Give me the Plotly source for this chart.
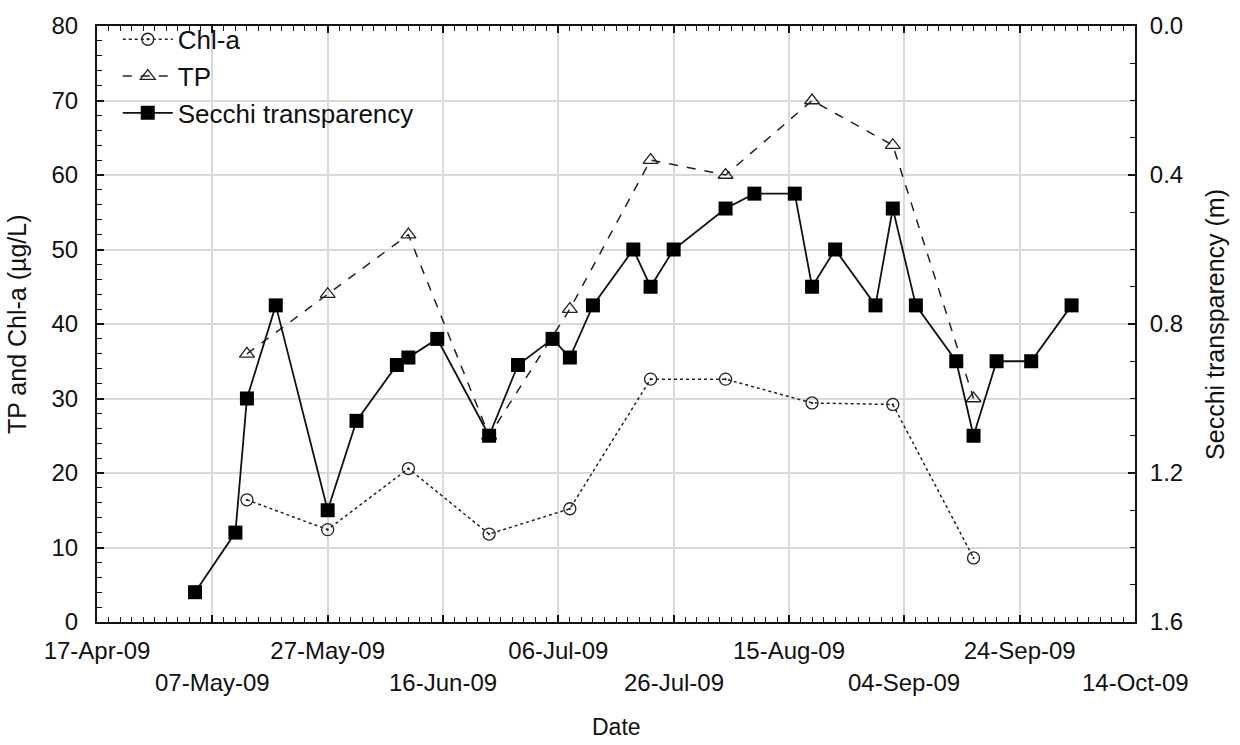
import plotly.graph_objects as go

# Sampling dates and measured values
sample_dates = ["2009-05-13", "2009-05-27", "2009-06-10", "2009-06-24", "2009-07-08",
                "2009-07-22", "2009-08-04", "2009-08-19", "2009-09-02", "2009-09-16"]
chla = [16.4, 12.4, 20.6, 11.8, 15.2, 32.6, 32.6, 29.4, 29.2, 8.6]
tp = [36, 44, 52, 25, 42, 62, 60, 70, 64, 30]

secchi_dates = ["2009-05-04", "2009-05-11", "2009-05-13", "2009-05-18", "2009-05-27",
                "2009-06-01", "2009-06-08", "2009-06-10", "2009-06-15", "2009-06-24",
                "2009-06-29", "2009-07-05", "2009-07-08", "2009-07-12", "2009-07-19",
                "2009-07-22", "2009-07-26", "2009-08-04", "2009-08-09", "2009-08-16",
                "2009-08-19", "2009-08-23", "2009-08-30", "2009-09-02", "2009-09-06",
                "2009-09-13", "2009-09-16", "2009-09-20", "2009-09-26", "2009-10-03"]
secchi = [1.52, 1.36, 1.00, 0.75, 1.30,
          1.06, 0.91, 0.89, 0.84, 1.10,
          0.91, 0.84, 0.89, 0.75, 0.60,
          0.70, 0.60, 0.49, 0.45, 0.45,
          0.70, 0.60, 0.75, 0.49, 0.75,
          0.90, 1.10, 0.90, 0.90, 0.75]

tick_dates = ["2009-04-17", "2009-05-07", "2009-05-27", "2009-06-16", "2009-07-06",
              "2009-07-26", "2009-08-15", "2009-09-04", "2009-09-24", "2009-10-14"]
tick_labels = ["17-Apr-09", "07-May-09", "27-May-09", "16-Jun-09", "06-Jul-09",
               "26-Jul-09", "15-Aug-09", "04-Sep-09", "24-Sep-09", "14-Oct-09"]

FONT = "Liberation Sans, Arial, sans-serif"
TXT = "#111111"
GRID = "#d9d9d9"
TICK_SIZE = 24

# even-indexed labels sit on the first row, the others on a second row below
row1_text = [t if i % 2 == 0 else "" for i, t in enumerate(tick_labels)]

fig = go.Figure()
fig.add_trace(go.Scatter(
    x=sample_dates, y=chla, name="Chl-a", mode="lines+markers",
    line=dict(color="#222", width=1.5, dash="dot"),
    marker=dict(symbol="circle-open-dot", size=12, color="#222", line=dict(width=1.3)),
))
fig.add_trace(go.Scatter(
    x=sample_dates, y=tp, name="TP", mode="lines+markers",
    line=dict(color="#222", width=1.5, dash="dash"),
    marker=dict(symbol="triangle-up-open", size=13, color="#222", line=dict(width=1.3)),
))
fig.add_trace(go.Scatter(
    x=secchi_dates, y=secchi, name="Secchi transparency", mode="lines+markers",
    yaxis="y2",
    line=dict(color="#111", width=1.8),
    marker=dict(symbol="square", size=14, color="#000"),
))

axis_common = dict(
    showline=True, linecolor="#111", linewidth=2,
    ticks="inside", ticklen=7, tickwidth=1.5, tickcolor="#111",
    tickfont=dict(family=FONT, size=TICK_SIZE, color=TXT),
    zeroline=False,
)

annotations = [
    dict(text="TP and Chl-a (µg/L)", xref="paper", yref="paper",
         x=-0.077, y=0.5, xanchor="center", yanchor="middle",
         textangle=-90, showarrow=False,
         font=dict(family=FONT, size=25, color=TXT)),
    dict(text="Secchi transparency (m)", xref="paper", yref="paper",
         x=1.077, y=0.5, xanchor="center", yanchor="middle",
         textangle=-90, showarrow=False,
         font=dict(family=FONT, size=25, color=TXT)),
    dict(text="Date", xref="paper", yref="paper",
         x=0.5, y=-0.177, xanchor="center", yanchor="middle", showarrow=False,
         font=dict(family=FONT, size=23, color=TXT)),
]
for i, (d, t) in enumerate(zip(tick_dates, tick_labels)):
    if i % 2 == 1:
        annotations.append(dict(
            text=t, x=d, xref="x", y=-0.102, yref="paper",
            xanchor="center", yanchor="middle", showarrow=False,
            font=dict(family=FONT, size=TICK_SIZE, color=TXT)))

fig.update_layout(
    width=1240, height=745,
    margin=dict(l=97, r=105, t=22, b=123),
    paper_bgcolor="white", plot_bgcolor="white",
    showlegend=True,
    legend=dict(
        x=0.02, y=1.017, xanchor="left", yanchor="top",
        bgcolor="rgba(0,0,0,0)", borderwidth=0,
        font=dict(family=FONT, size=26, color=TXT),
        itemwidth=50, tracegroupgap=0,
    ),
    xaxis=dict(
        type="date",
        range=["2009-04-17", "2009-10-14"],
        tickmode="array", tickvals=tick_dates, ticktext=row1_text,
        showgrid=True, gridcolor=GRID, gridwidth=2,
        mirror="ticks",
        ticklabelstandoff=6,
        minor=dict(dtick=2 * 86400000, tick0="2009-04-17", ticks="inside",
                   ticklen=5, tickwidth=1.3, tickcolor="#111", showgrid=False),
        **axis_common,
    ),
    yaxis=dict(
        range=[0, 80], dtick=10, tick0=0,
        showgrid=True, gridcolor=GRID, gridwidth=2,
        ticklabelstandoff=12,
        minor=dict(dtick=2, ticks="inside", ticklen=5, tickwidth=1.3,
                   tickcolor="#111", showgrid=False),
        **axis_common,
    ),
    yaxis2=dict(
        overlaying="y", side="right",
        range=[1.6, 0], dtick=0.4, tick0=0, tickformat=".1f",
        showgrid=False,
        ticklabelstandoff=8,
        minor=dict(dtick=0.1, ticks="inside", ticklen=5, tickwidth=1.3,
                   tickcolor="#111", showgrid=False),
        **axis_common,
    ),
    annotations=annotations,
)

fig.write_html("out.html")
